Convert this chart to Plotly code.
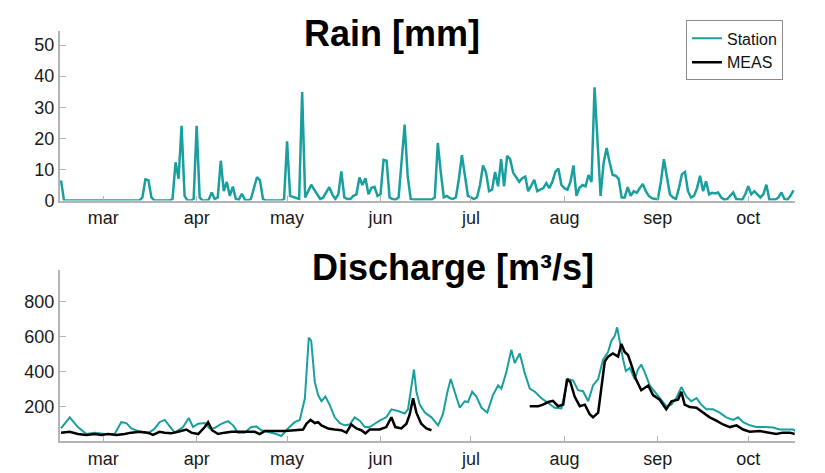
import pandas as pd
import plotly.graph_objects as go
from plotly.subplots import make_subplots

START = "2011-02-15"

# Daily rain [mm], Feb 15 .. Oct 16
rain_feb = [6.5, 0, 0, 0, 0, 0, 0, 0, 0, 0, 0, 0, 0, 0]
rain_mar = [0, 0, 0, 0, 0, 0, 0, 0, 0, 0, 0, 0, 0, 1, 6.8, 6.5, 1, 0, 0, 0, 0, 0, 0,
            0.5, 12.3, 7, 24, 1.5, 0, 0, 0.5]
rain_apr = [24, 1, 0, 0, 0.3, 2.6, 0.5, 1, 12.8, 3, 6, 1.5, 4.5, 0.5, 0.3, 2.2, 0.3, 0,
            0.5, 4, 7.5, 6.5, 0.5, 0, 0, 0, 0, 0, 0, 0.5]
rain_may = [19, 1.5, 1.2, 0.8, 0.5, 34.9, 1, 3, 5.1, 3.5, 2, 0.5, 1, 2.5, 4.3, 2, 0.5, 2,
            9.4, 1, 0.5, 0.5, 1.5, 2, 7.4, 5, 7.2, 2, 4.1, 4.4, 1.5]
rain_jun = [2, 13.1, 12.8, 1, 0.5, 0.3, 1, 12, 24.4, 8, 0.5, 0.3, 0.3, 0.3, 0.3, 0.3, 0.3,
            0.3, 1, 18.5, 9, 1, 1.5, 0.8, 0.5, 1, 7, 14.6, 8, 1.5]
rain_jul = [1, 0.5, 1, 5, 11.3, 9, 3, 3.5, 9.2, 4.6, 13.3, 4.6, 14.4, 13.3, 9, 7.7, 6, 7.2,
            7.7, 3, 5, 6.7, 3, 3.5, 4, 5.6, 4, 6, 9.2, 10.3, 5]
rain_aug = [4, 3.5, 6, 11.3, 1.5, 4.1, 5, 4.6, 8.2, 6, 36.4, 20, 1.5, 12, 16.9, 12.3, 8.2,
            8, 7, 1, 1, 4.3, 1.5, 3, 2.5, 4, 5.3, 3, 1.5, 0.8, 0.5]
rain_sep = [0.5, 6, 13.3, 8, 2, 1, 0.5, 4, 8.5, 9.2, 3, 1, 1.5, 4, 8, 3, 6.2, 2, 2.5, 2.3,
            2.6, 1, 0.3, 0.5, 1.5, 2.6, 0.5, 0.3, 0.3, 2]
rain_oct = [4.6, 2, 3, 2, 1, 2, 5.1, 0.3, 0.3, 0.3, 1, 2.6, 0.5, 0.3, 1.5, 3.3]

# Discharge [m3/s]: day offset from START and value
q_station_day = [0, 2.9, 5.6, 8.4, 11.2, 14.5, 17.8, 20, 21.7, 23.3, 26.1, 28.9, 31.1, 32.7,
                 34.4, 36.1, 37.7, 40.5, 42.4, 43.8, 45.5, 47.7, 49.3, 51, 53.2, 55.4, 57.1,
                 58.7, 60.9, 63.1, 64.8, 66.5, 68.7, 71.4, 73.1, 75.3, 77.5, 79.2, 80.9, 82.2,
                 83, 84.2, 85.3, 86.4, 87.7, 89.1, 90.8, 92.5, 94.1, 95.8, 97.4, 99.1, 100.8,
                 102.4, 104.1, 105.7, 107.9, 109.6, 111.8, 114, 115.1, 116.2, 117.1, 117.9,
                 119, 120.7, 122.9, 125.1, 126.7, 128.2, 129.3, 130.6, 132.3, 133.9, 135,
                 136.4, 137.8, 139.5, 141.4, 143.3, 145, 146.1, 147.7, 149.4, 150.5, 152.2,
                 153.8, 155.5, 157.2, 159.4, 161.6, 163.8, 166, 168.2, 169.9, 171.5, 173.2,
                 174.9, 176.5, 178.2, 179.8, 181.5, 182.6, 183.7, 184.5, 185.4, 186.5, 187.4,
                 188.7, 190.3, 191.4, 192.5, 193.7, 195.3, 197, 198.6, 200.8, 202.5, 204.1,
                 205.8, 207.5, 209.1, 210.8, 212.4, 214.1, 216.3, 218.5, 220.7, 223, 224.6,
                 226.3, 228.5, 230.7, 234, 236.2, 238.4, 240.6, 242.9, 243.6]
q_station = [72, 136, 80, 40, 48, 40, 40, 108, 103, 72, 53, 44, 72, 108,
             121, 80, 48, 80, 132, 80, 99, 103, 72, 75, 99, 114, 90,
             48, 48, 80, 84, 62, 53, 40, 29, 72, 108, 121, 244, 595,
             576, 338, 264, 228, 255, 209, 136, 103, 90, 95, 136, 117, 80,
             80, 99, 117, 136, 182, 172, 158, 182, 301, 411, 283,
             209, 163, 136, 90, 154, 283, 356, 283, 191, 228, 224,
             283, 255, 191, 163, 264, 319, 301, 393, 525, 448, 503,
             393, 301, 283, 246, 218, 191, 187, 356, 347, 292, 286,
             228, 319, 356, 466, 512, 576, 604, 653, 558, 466, 402,
             420, 356, 411, 439, 393, 319, 283, 246, 200, 209, 246,
             310, 255, 228, 246, 209, 182, 182, 163, 136, 121, 136,
             108, 90, 80, 80, 77, 66, 66, 66, 58]

q_meas_day = [0, 2.9, 5.6, 8.4, 11.2, 13.4, 15.6, 18.4, 21.1, 23.3, 26.1, 28.9, 30.5, 32.7,
              34.4, 36.6, 38.8, 41.6, 43.2, 45.5, 47.7, 48.8, 50.1, 52.1, 54.3, 56.5, 59.3,
              62, 64.3, 65.9, 67.6, 70.9, 74.2, 77.5, 80.3, 81.4, 82.8, 84.2, 85.3, 86.4,
              88.6, 90.8, 93, 94.7, 96.3, 98, 99.6, 101, 102.4, 104.1, 105.7, 107.9, 109.6,
              110.9, 112.9, 114.6, 115.7, 116.8, 117.9, 119.5, 121.2, 122.9,
              139,
              155.5, 158.3, 159.9, 161.6, 163.2, 164.9, 166.6, 167.9, 169, 170.4, 172.1,
              173.8, 175.4, 176.5, 178.2, 179.6, 180.4, 181.5, 183.1, 184.8, 185.9, 187,
              188.1, 189.2, 190.7, 192.5, 194.8, 196.4, 198.6, 200.8, 202.5, 204.7, 205.8,
              206.9, 208.6, 210.8, 213, 215.2, 217.4, 219.6, 221.9, 224.1, 226.3, 228.5,
              231.8, 235.1, 237.3, 239.5, 241.8, 243.4]
q_meas = [48, 53, 40, 35, 40, 35, 40, 35, 40, 48, 53, 48, 35, 53,
          48, 44, 53, 66, 48, 40, 80, 108, 62, 40, 48, 53, 53,
          53, 53, 40, 57, 57, 57, 62, 66, 99, 121, 103, 108, 90,
          72, 66, 62, 48, 95, 72, 62, 44, 66, 66, 66, 80, 136,
          80, 72, 99, 154, 246, 163, 99, 72, 62,
          None,
          200, 200, 209, 224, 231, 200, 209, 356, 338, 255, 200,
          209, 154, 136, 163, 374, 457, 485, 503, 485, 558, 512,
          494, 439, 356, 292, 319, 264, 237, 182, 228, 237, 283,
          209, 195, 191, 163, 136, 117, 95, 80, 90, 66, 53,
          57, 48, 40, 48, 48, 40]

month_ticks = ["2011-03-01", "2011-04-01", "2011-05-01", "2011-06-01",
               "2011-07-01", "2011-08-01", "2011-09-01", "2011-10-01"]
month_labels = ["mar", "apr", "may", "jun", "jul", "aug", "sep", "oct"]
rain_ticks = [0, 10, 20, 30, 40, 50]
q_ticks = [200, 400, 600, 800]

TEAL = "#1a9f9f"
AXIS = "#b4b4b4"
FONT = "Liberation Sans, Arial, sans-serif"

start = pd.Timestamp(START)
rain = rain_feb + rain_mar + rain_apr + rain_may + rain_jun + rain_jul + rain_aug + rain_sep + rain_oct
rain_dates = pd.date_range(start, periods=len(rain), freq="D")
qs_dates = start + pd.to_timedelta(q_station_day, unit="D")
qm_dates = start + pd.to_timedelta(q_meas_day, unit="D")

fig = make_subplots(rows=2, cols=1, vertical_spacing=0.0)

fig.add_trace(go.Scatter(x=rain_dates, y=rain, mode="lines", name="Station",
                         line=dict(color=TEAL, width=2.5), showlegend=False), row=1, col=1)
fig.add_trace(go.Scatter(x=qs_dates, y=q_station, mode="lines", name="Station",
                         line=dict(color=TEAL, width=2)), row=2, col=1)
fig.add_trace(go.Scatter(x=qm_dates, y=q_meas, mode="lines", name="MEAS",
                         line=dict(color="#000000", width=2.5)), row=2, col=1)

xr = ["2011-02-14 16:00", "2011-10-16 12:00"]
H = 473 - 23 - 22
top_bottom = (451 - 200) / H
bot_top = (451 - 273) / H

common_x = dict(range=xr, tickvals=month_ticks, ticktext=month_labels, showgrid=False,
                showline=True, linecolor=AXIS, linewidth=2, ticks="inside", ticklen=5,
                tickcolor=AXIS, tickwidth=1, zeroline=False,
                tickfont=dict(family=FONT, size=18, color="#1a1a1a"))
common_y = dict(showgrid=False, showline=True, linecolor=AXIS, linewidth=2, ticks="inside",
                ticklen=6, tickcolor=AXIS, tickwidth=1, zeroline=False,
                tickfont=dict(family=FONT, size=18, color="#1a1a1a"))

fig.update_layout(
    width=825, height=473,
    margin=dict(l=52, r=38, t=23, b=22),
    paper_bgcolor="white", plot_bgcolor="white",
    xaxis=dict(domain=[0, 1], **common_x),
    xaxis2=dict(domain=[0, 1], **common_x),
    yaxis=dict(domain=[top_bottom, 1], range=[0, 54.5], tickvals=rain_ticks, **common_y),
    yaxis2=dict(domain=[0, bot_top], range=[0, 980], tickvals=q_ticks, **common_y),
    legend=dict(x=(678 - 52) / 735, y=(451 - 12) / H, xanchor="left", yanchor="top",
                bgcolor="white", bordercolor="#8c8c8c", borderwidth=1,
                font=dict(family=FONT, size=16, color="#111111"),
                tracegroupgap=0, itemwidth=30),
    showlegend=True,
)

fig.add_annotation(text="<b>Rain [mm]</b>", xref="paper", yref="paper",
                   x=(384 - 52) / 735, y=(451 - 26) / H, xanchor="center", yanchor="middle",
                   showarrow=False, font=dict(family=FONT, size=36, color="#000000"))
fig.add_annotation(text="<b>Discharge [m³/s]</b>", xref="paper", yref="paper",
                   x=(445 - 52) / 735, y=(451 - 270) / H, xanchor="center", yanchor="middle",
                   showarrow=False, font=dict(family=FONT, size=36, color="#000000"))

fig.write_html("out.html")
